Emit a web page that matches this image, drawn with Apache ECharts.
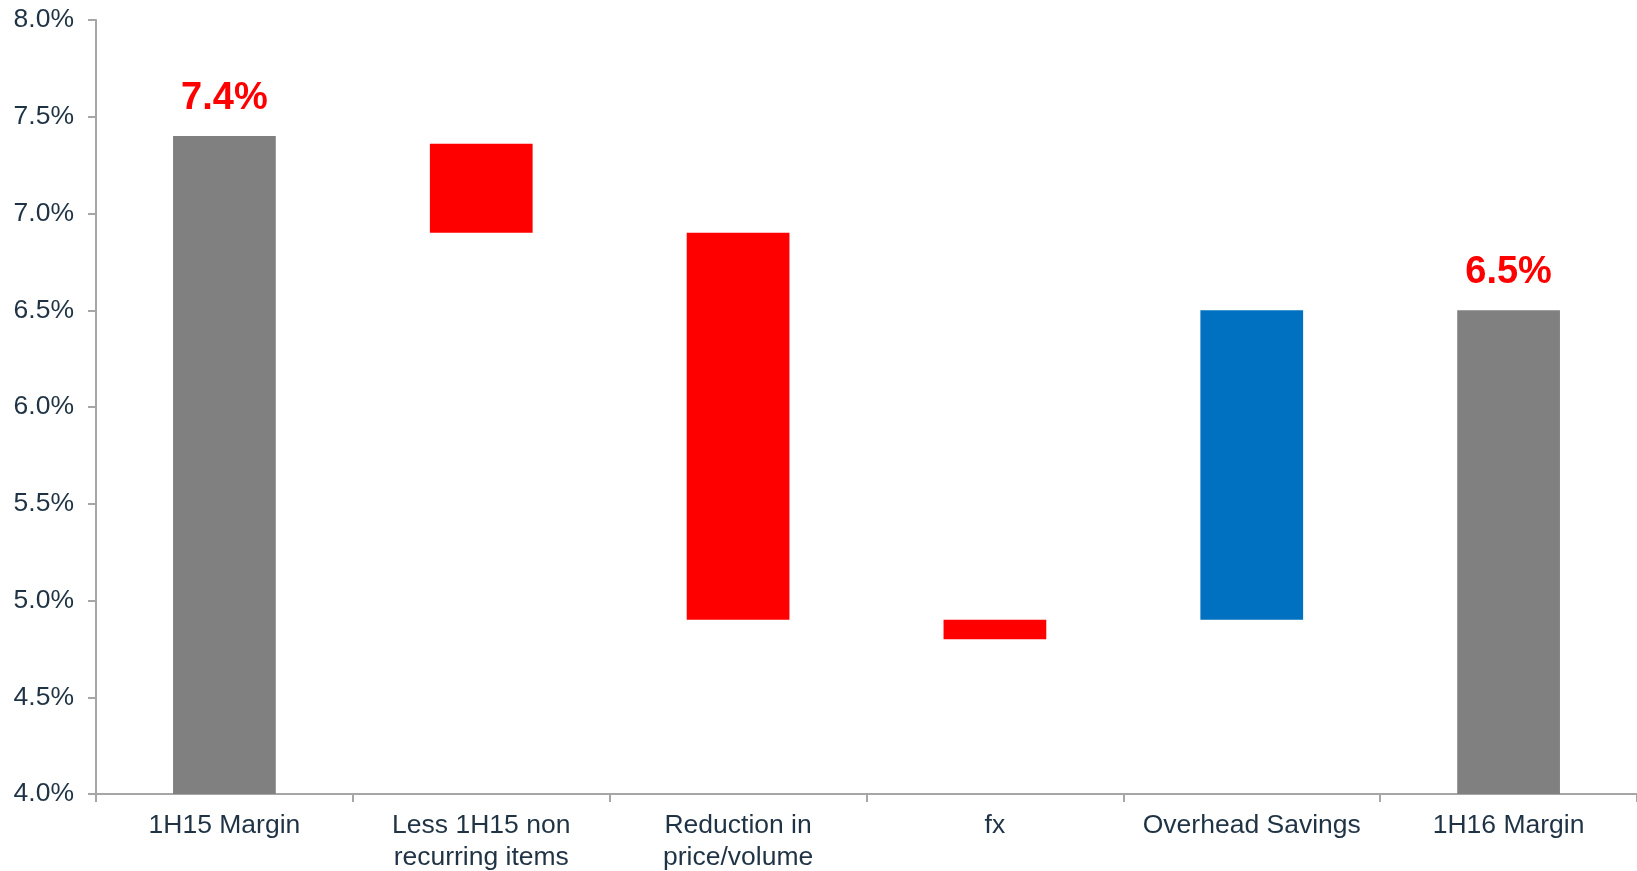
<!DOCTYPE html>
<html>
<head>
<meta charset="utf-8">
<script src="https://cdn.jsdelivr.net/npm/echarts@6/dist/echarts.min.js"></script>
<style>
  html, body { margin: 0; padding: 0; background: #fff; }
  #main { width: 1637px; height: 871px; }
</style>
</head>
<body>
<div id="main"></div>
<script>
// 类别
var categories = ['1H15 Margin', 'Less 1H15 non\nrecurring items', 'Reduction in\nprice/volume', 'fx', 'Overhead Savings', '1H16 Margin']
// 每根柱子的底部和高度 (%)
var barBase = [0, 6.9, 4.9, 4.8, 4.9, 0]
var barSize = [7.4, 0.46, 2.0, 0.1, 1.6, 6.5]
var barColors = ['#808080', '#FF0000', '#FF0000', '#FF0000', '#0070C0', '#808080']
var labelShown = [true, false, false, false, false, true]

var axisColor = '#A6A6A6'
var textColor = '#1F3344'

var chart = echarts.init(document.getElementById('main'))

var visibleData = barSize.map(function (v, i) {
  return {
    value: v,
    itemStyle: { color: barColors[i] },
    label: { show: labelShown[i] }
  }
})

var option = {
  animation: false,
  grid: { left: 96, right: 0, top: 20, bottom: 77, containLabel: false, outerBoundsMode: 'none' },
  xAxis: {
    type: 'category',
    data: categories,
    axisLine: { lineStyle: { color: axisColor, width: 2 } },
    axisTick: { show: true, length: 8, lineStyle: { color: axisColor, width: 2 } },
    axisLabel: {
      color: textColor, fontSize: 26.5, fontFamily: 'Liberation Sans, Arial, sans-serif',
      margin: 16, lineHeight: 32, interval: 0
    }
  },
  yAxis: {
    type: 'value',
    min: 4, max: 8, interval: 0.5,
    splitLine: { show: false },
    axisLine: { show: true, lineStyle: { color: axisColor, width: 2 } },
    axisTick: { show: true, length: 8, lineStyle: { color: axisColor, width: 2 } },
    axisLabel: {
      color: textColor, fontSize: 26.5, fontFamily: 'Liberation Sans, Arial, sans-serif',
      margin: 22,
      formatter: function (v) { return v.toFixed(1) + '%' }
    }
  },
  series: [
    {
      type: 'bar', stack: 'wf', barWidth: '40%',
      itemStyle: { color: 'transparent' },
      emphasis: { disabled: true },
      data: barBase
    },
    {
      type: 'bar', stack: 'wf', barWidth: '40%',
      data: visibleData,
      label: {
        position: 'top', distance: 19,
        color: '#FF0000', fontWeight: 'bold', fontSize: 38,
        fontFamily: 'Liberation Sans, Arial, sans-serif',
        formatter: function (p) { return p.value.toFixed(1) + '%' }
      }
    }
  ]
}
chart.setOption(option)
</script>
</body>
</html>
